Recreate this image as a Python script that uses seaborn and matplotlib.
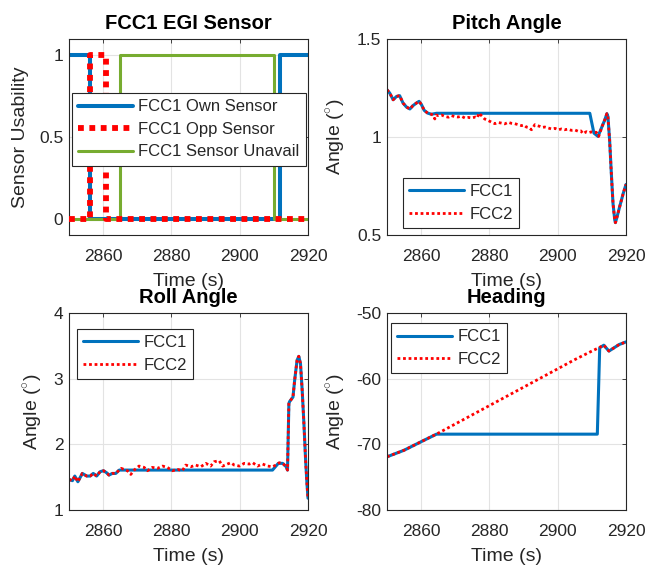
import matplotlib
matplotlib.use("Agg")
import matplotlib.pyplot as plt
import seaborn as sns

# FCC1 EGI sensor usability flags (step signals, vertices at the switch times)
ownT = [2850.0, 2856.2, 2856.2, 2911.7, 2911.7, 2920.0]
ownV = [1, 1, 0, 0, 1, 1]
oppT = [2850.0, 2856.2, 2856.2, 2860.7, 2860.7, 2920.0]
oppV = [0, 0, 1, 1, 0, 0]
unavailT = [2850.0, 2865.0, 2865.0, 2910.0, 2910.0, 2920.0]
unavailV = [0, 0, 1, 1, 0, 0]

# Pitch angle
pitchT2 = [2850.0, 2850.8, 2851.8, 2852.8, 2853.7, 2854.7, 2855.7, 2856.7, 2857.6, 2858.6,
           2859.4, 2860.1, 2860.9, 2861.9, 2863.0, 2863.6, 2864.0, 2864.4, 2865.0, 2866.0,
           2866.9, 2868.0, 2868.9, 2869.8, 2870.8, 2871.8, 2872.8, 2873.8, 2874.8, 2875.9,
           2876.5, 2876.9, 2877.9, 2878.6, 2879.4, 2880.1, 2880.9, 2881.6, 2882.5, 2883.5,
           2884.5, 2885.5, 2886.4, 2887.4, 2888.4, 2889.4, 2890.1, 2890.8, 2891.6, 2892.3,
           2892.7, 2893.3, 2894.0, 2894.8, 2895.5, 2896.2, 2897.2, 2898.2, 2899.2, 2900.2,
           2901.1, 2902.0, 2903.0, 2904.0, 2905.0, 2906.0, 2906.8, 2907.4, 2908.4, 2909.1,
           2909.8, 2910.5, 2911.3, 2912.0, 2913.0, 2913.8, 2914.4, 2914.7, 2915.2, 2915.7,
           2916.2, 2916.7, 2916.9, 2917.4, 2918.2, 2919.2, 2920.0]
pitchV2 = [1.241, 1.224, 1.190, 1.207, 1.211, 1.173, 1.153, 1.143, 1.160, 1.173,
           1.182, 1.165, 1.136, 1.122, 1.116, 1.110, 1.092, 1.112, 1.109, 1.112,
           1.105, 1.101, 1.109, 1.104, 1.102, 1.106, 1.097, 1.100, 1.097, 1.102,
           1.098, 1.122, 1.105, 1.092, 1.086, 1.080, 1.073, 1.068, 1.074, 1.071,
           1.067, 1.075, 1.070, 1.068, 1.063, 1.058, 1.061, 1.051, 1.048, 1.037,
           1.045, 1.063, 1.058, 1.054, 1.049, 1.051, 1.046, 1.041, 1.044, 1.037,
           1.041, 1.037, 1.040, 1.034, 1.036, 1.029, 1.031, 1.017, 1.027, 1.022,
           1.026, 1.024, 1.024, 1.003, 1.054, 1.088, 1.119, 1.105, 0.985, 0.815,
           0.660, 0.577, 0.563, 0.594, 0.648, 0.713, 0.758]
pitchT1 = [2850.0, 2850.8, 2851.8, 2852.8, 2853.7, 2854.7, 2855.7, 2856.7, 2857.6, 2858.6,
           2859.4, 2860.1, 2860.9, 2861.9, 2863.0, 2864.5, 2909.4, 2910.6, 2911.8, 2913.0,
           2913.8, 2914.4, 2914.7, 2915.2, 2915.7, 2916.2, 2916.7, 2916.9, 2917.4, 2918.2,
           2919.2, 2920.0]
pitchV1 = [1.241, 1.224, 1.190, 1.207, 1.211, 1.173, 1.153, 1.143, 1.160, 1.173,
           1.182, 1.165, 1.136, 1.122, 1.116, 1.121, 1.121, 1.020, 1.003, 1.054,
           1.088, 1.119, 1.105, 0.985, 0.815, 0.660, 0.577, 0.563, 0.594, 0.648,
           0.713, 0.758]

# Roll angle
rollT2 = [2850.0, 2851.0, 2851.7, 2852.6, 2853.9, 2855.2, 2856.2, 2857.1, 2858.1, 2859.1,
          2860.1, 2861.0, 2861.7, 2862.7, 2863.7, 2864.7, 2865.3, 2866.1, 2867.1, 2868.1,
          2869.1, 2870.5, 2872.0, 2873.0, 2874.4, 2875.9, 2877.4, 2878.8, 2880.3, 2881.8,
          2883.2, 2884.2, 2885.7, 2887.1, 2888.6, 2890.1, 2891.5, 2892.5, 2894.0, 2895.0,
          2896.4, 2897.4, 2898.4, 2899.9, 2901.3, 2902.8, 2903.8, 2905.2, 2906.7, 2908.2,
          2909.6, 2910.6, 2911.6, 2912.6, 2913.6, 2914.0, 2914.4, 2914.6, 2915.6, 2916.1,
          2916.8, 2917.3, 2917.8, 2918.3, 2918.8, 2919.3, 2919.7, 2920.0]
rollV2 = [1.466, 1.446, 1.517, 1.430, 1.557, 1.517, 1.517, 1.557, 1.517, 1.583,
          1.598, 1.568, 1.532, 1.557, 1.557, 1.608, 1.634, 1.618, 1.598, 1.542,
          1.608, 1.669, 1.649, 1.598, 1.649, 1.634, 1.669, 1.649, 1.598, 1.618,
          1.598, 1.684, 1.659, 1.684, 1.659, 1.710, 1.669, 1.735, 1.750, 1.669,
          1.700, 1.720, 1.684, 1.669, 1.710, 1.700, 1.720, 1.669, 1.700, 1.669,
          1.659, 1.684, 1.720, 1.710, 1.659, 1.608, 2.620, 2.650, 2.720, 2.980,
          3.280, 3.340, 3.230, 2.820, 2.320, 1.760, 1.400, 1.180]
rollT1 = [2850.0, 2851.0, 2851.7, 2852.6, 2853.9, 2855.2, 2856.2, 2857.1, 2858.1, 2859.1,
          2860.1, 2861.0, 2861.7, 2862.7, 2863.7, 2864.7, 2865.6, 2909.6, 2911.3, 2912.6,
          2913.6, 2914.0, 2914.4, 2914.6, 2915.6, 2916.1, 2916.8, 2917.3, 2917.8, 2918.3,
          2918.8, 2919.3, 2919.7, 2920.0]
rollV1 = [1.466, 1.446, 1.517, 1.430, 1.557, 1.517, 1.517, 1.557, 1.517, 1.583,
          1.598, 1.568, 1.532, 1.557, 1.557, 1.608, 1.608, 1.608, 1.710, 1.710,
          1.659, 1.608, 2.620, 2.650, 2.720, 2.980, 3.280, 3.340, 3.230, 2.820,
          2.320, 1.760, 1.400, 1.180]

# Heading
headT2 = [2850, 2855, 2860, 2865, 2870, 2875, 2880, 2885, 2890, 2895,
          2900, 2905, 2910, 2912, 2913.5, 2915, 2916.5, 2918, 2920]
headV2 = [-71.9, -70.9, -69.6, -68.3, -66.9, -65.5, -64.1, -62.7, -61.3, -59.9,
          -58.5, -57.1, -55.8, -55.3, -54.9, -55.8, -55.3, -54.8, -54.4]
headT1 = [2850, 2855, 2860, 2864.5, 2911.6, 2912.3, 2913.5, 2915, 2916.5, 2918, 2920]
headV1 = [-71.9, -70.9, -69.6, -68.45, -68.45, -55.3, -54.9, -55.8, -55.3, -54.8, -54.4]

xTicks = [2860, 2880, 2900, 2920]

blueColor = '#0072BD'
redColor = '#FF0000'
greenColor = '#77AC30'
inkColor = '#262626'

sns.set_style("whitegrid", {
    'axes.edgecolor': inkColor,
    'grid.color': '#e3e3e3',
    'axes.linewidth': 0.8,
})
plt.rcParams['font.family'] = ['Liberation Sans', 'DejaVu Sans']
plt.rcParams['mathtext.fontset'] = 'custom'
plt.rcParams['mathtext.rm'] = 'Liberation Sans'
plt.rcParams['text.color'] = inkColor
plt.rcParams['axes.labelcolor'] = inkColor
plt.rcParams['xtick.color'] = inkColor
plt.rcParams['ytick.color'] = inkColor

fig = plt.figure(figsize=(6.48, 5.68), dpi=100)
axW = 239 / 648
ax1 = fig.add_axes([69 / 648, 1 - 235 / 568, axW, 196 / 568])
ax2 = fig.add_axes([387 / 648, 1 - 235 / 568, axW, 196 / 568])
ax3 = fig.add_axes([69 / 648, 1 - 510 / 568, axW, 197 / 568])
ax4 = fig.add_axes([387 / 648, 1 - 510 / 568, axW, 197 / 568])


def style_axes(ax, title, ylabel, ylim, yticks, yticklabels):
    ax.set_xlim(2850, 2920)
    ax.set_ylim(*ylim)
    ax.set_xticks(xTicks)
    ax.set_yticks(yticks)
    ax.set_yticklabels(yticklabels)
    ax.set_title(title, fontsize=14.5, fontweight='bold', color='black', pad=7.5)
    ax.set_xlabel('Time (s)', fontsize=14, labelpad=6.5)
    ax.set_ylabel(ylabel, fontsize=14, labelpad=7)
    ax.tick_params(axis='both', direction='in', length=3, width=0.6,
                   labelsize=12.5, top=True, right=True)
    ax.tick_params(axis='x', pad=10)
    ax.tick_params(axis='y', pad=4)
    ax.grid(True, linewidth=0.8)
    for spine in ax.spines.values():
        spine.set_visible(True)
        spine.set_color(inkColor)
        spine.set_linewidth(0.8)


legendKw = dict(frameon=True, fancybox=False, framealpha=1, edgecolor=inkColor,
                borderpad=0.38, handlelength=3.3, handletextpad=0.3,
                labelspacing=0.45, borderaxespad=0)

# 1. EGI sensor flags
sns.lineplot(x=ownT, y=ownV, estimator=None, sort=False, ax=ax1,
             color=blueColor, linewidth=2.9, label='FCC1 Own Sensor')
sns.lineplot(x=oppT, y=oppV, estimator=None, sort=False, ax=ax1,
             color=redColor, linewidth=4.2, linestyle=(0, (1, 0.95)),
             label='FCC1 Opp Sensor', zorder=3)
sns.lineplot(x=unavailT, y=unavailV, estimator=None, sort=False, ax=ax1,
             color=greenColor, linewidth=2.2, label='FCC1 Sensor Unavail')
style_axes(ax1, 'FCC1 EGI Sensor', 'Sensor Usability', (-0.1, 1.1),
           [0, 0.5, 1], ['0', '0.5', '1'])
leg = ax1.legend(loc='upper left', bbox_to_anchor=(0.0126, 0.724), fontsize=12, **legendKw)
leg.get_frame().set_linewidth(0.8)

# 2. Pitch
sns.lineplot(x=pitchT1, y=pitchV1, estimator=None, sort=False, ax=ax2,
             color=blueColor, linewidth=2.2, label='FCC1')
sns.lineplot(x=pitchT2, y=pitchV2, estimator=None, sort=False, ax=ax2,
             color=redColor, linewidth=2.0, linestyle=(0, (1, 1)), label='FCC2')
style_axes(ax2, 'Pitch Angle', r'Angle ($^{\circ}$)', (0.5, 1.5),
           [0.5, 1, 1.5], ['0.5', '1', '1.5'])
leg = ax2.legend(loc='lower left', bbox_to_anchor=(0.067, 0.036), fontsize=12, **legendKw)
leg.get_frame().set_linewidth(0.8)

# 3. Roll
sns.lineplot(x=rollT1, y=rollV1, estimator=None, sort=False, ax=ax3,
             color=blueColor, linewidth=2.2, label='FCC1')
sns.lineplot(x=rollT2, y=rollV2, estimator=None, sort=False, ax=ax3,
             color=redColor, linewidth=2.0, linestyle=(0, (1, 1)), label='FCC2')
style_axes(ax3, 'Roll Angle', r'Angle ($^{\circ}$)', (1, 4),
           [1, 2, 3, 4], ['1', '2', '3', '4'])
leg = ax3.legend(loc='upper left', bbox_to_anchor=(0.033, 0.919), fontsize=12, **legendKw)
leg.get_frame().set_linewidth(0.8)

# 4. Heading
sns.lineplot(x=headT1, y=headV1, estimator=None, sort=False, ax=ax4,
             color=blueColor, linewidth=2.2, label='FCC1')
sns.lineplot(x=headT2, y=headV2, estimator=None, sort=False, ax=ax4,
             color=redColor, linewidth=2.0, linestyle=(0, (1, 1)), label='FCC2')
style_axes(ax4, 'Heading', r'Angle ($^{\circ}$)', (-80, -50),
           [-80, -70, -60, -50], ['-80', '-70', '-60', '-50'])
leg = ax4.legend(loc='upper left', bbox_to_anchor=(0.017, 0.949), fontsize=12, **legendKw)
leg.get_frame().set_linewidth(0.8)

fig.savefig('out.png', dpi=100)
plt.close(fig)
